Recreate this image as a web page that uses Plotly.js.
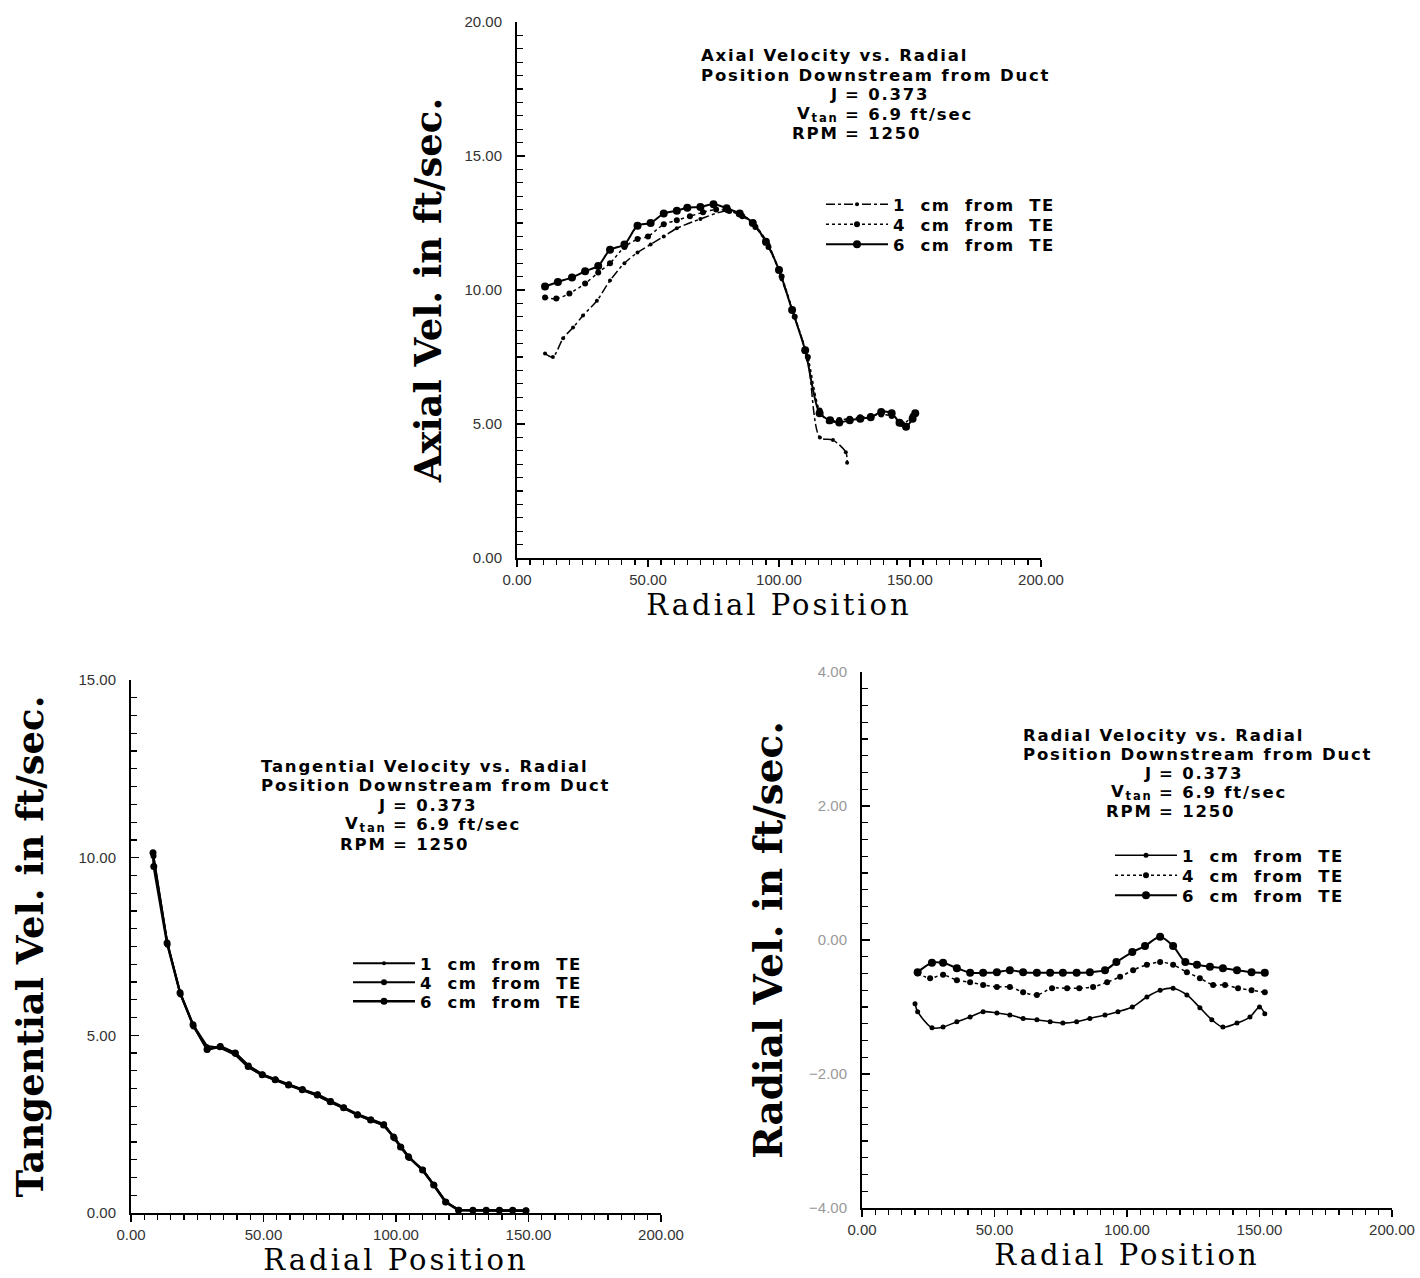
<!DOCTYPE html>
<html>
<head>
<meta charset="utf-8">
<script src="https://cdn.plot.ly/plotly-3.0.1.min.js"></script>
<style>html,body{margin:0;padding:0;background:#fff;}#chart{width:1420px;height:1278px;}</style>
</head>
<body>
<div id="chart"></div>
<script>
// ---------- DATA ----------
const seriesNames = ["1\u00a0 cm\u00a0 from\u00a0 TE", "4\u00a0 cm\u00a0 from\u00a0 TE", "6\u00a0 cm\u00a0 from\u00a0 TE"];

// Axial velocity (top chart)
const axialX1 = [10.7, 13.7, 17.6, 21.4, 25.2, 30.5, 35.5, 41, 46, 51, 56, 61, 70, 80, 86, 91, 96, 101, 106, 111, 115.6, 120.6, 125.5, 126];
const axialY1 = [7.63, 7.5, 8.2, 8.6, 9.05, 9.6, 10.35, 11.0, 11.4, 11.7, 12.0, 12.3, 12.65, 12.95, 12.8, 12.4, 11.7, 10.4, 9.0, 7.4, 4.5, 4.4, 3.95, 3.55];
const axialX4 = [10.7, 15, 20, 26, 31, 35.5, 41, 46, 50, 56, 61, 66, 71, 76, 81, 86, 91, 96, 101, 106, 111, 115.5, 119, 123, 127, 131, 135, 139, 143, 147, 151];
const axialY4 = [9.72, 9.68, 9.87, 10.24, 10.65, 11.0, 11.6, 11.9, 12.0, 12.45, 12.6, 12.75, 12.9, 13.0, 12.95, 12.75, 12.35, 11.6, 10.5, 9.0, 7.5, 5.5, 5.1, 5.15, 5.2, 5.25, 5.3, 5.35, 5.3, 5.0, 5.3];
const axialX6 = [10.7, 15.6, 21, 26, 31, 35.5, 41, 46, 51, 56, 61, 65, 70, 75, 80, 85, 90, 95, 100, 105, 110, 115.5, 119.5, 123, 127, 131, 135, 139, 143, 146, 148.5, 151, 152];
const axialY6 = [10.13, 10.3, 10.47, 10.7, 10.9, 11.5, 11.7, 12.4, 12.5, 12.85, 12.96, 13.07, 13.1, 13.2, 13.05, 12.85, 12.5, 11.8, 10.75, 9.25, 7.75, 5.4, 5.14, 5.06, 5.14, 5.2, 5.25, 5.45, 5.4, 5.05, 4.9, 5.2, 5.4];

// Tangential velocity (bottom-left chart)
const tanX1 = [8.3, 13.6, 18.5, 23.4, 28.7, 33.6, 39.3, 44.2, 49.5, 54.4, 59.4, 64.6, 70.3, 75.2, 80.2, 85.4, 90.4, 95.3, 99.1, 104.7, 110, 114.2, 118.7, 123.6, 129, 134, 139, 144, 149];
const tanY1 = [10.1, 7.65, 6.2, 5.3, 4.7, 4.65, 4.45, 4.1, 3.88, 3.74, 3.6, 3.46, 3.3, 3.12, 2.95, 2.76, 2.6, 2.47, 2.15, 1.6, 1.2, 0.8, 0.32, 0.08, 0.07, 0.07, 0.07, 0.07, 0.06];
const tanX4 = [8.5, 13.8, 18.7, 23.6, 28.9, 33.8, 39.5, 44.4, 49.7, 54.6, 59.6, 64.8, 70.5, 75.4, 80.4, 85.6, 90.6, 95.5, 99.5, 102, 105, 110.2, 114.5, 119, 123.8, 129.2, 134.2, 139.2, 144.2, 149.2];
const tanY4 = [10.05, 7.55, 6.15, 5.25, 4.6, 4.7, 4.5, 4.15, 3.9, 3.76, 3.62, 3.48, 3.34, 3.15, 2.97, 2.78, 2.63, 2.5, 2.1, 1.85, 1.55, 1.22, 0.78, 0.3, 0.09, 0.08, 0.08, 0.08, 0.08, 0.07];
const tanX6 = [8.3, 8.6, 13.6, 18.5, 23.4, 28.7, 33.6, 39.3, 44.2, 49.5, 54.4, 59.4, 64.6, 70.3, 75.2, 80.2, 85.4, 90.4, 95.3, 99.1, 101.7, 104.7, 110, 114.2, 118.7, 123.6, 129, 134, 139, 144, 149];
const tanY6 = [10.14, 9.75, 7.6, 6.2, 5.3, 4.6, 4.68, 4.5, 4.12, 3.89, 3.75, 3.6, 3.47, 3.32, 3.13, 2.96, 2.76, 2.62, 2.48, 2.14, 1.86, 1.58, 1.21, 0.79, 0.31, 0.08, 0.08, 0.08, 0.08, 0.08, 0.06];

// Radial velocity (bottom-right chart)
const radX1 = [20, 21, 26.4, 30.6, 35.8, 40.8, 45.7, 50.9, 55.8, 60.8, 66, 71, 75.8, 81, 86, 91.7, 96.6, 102, 107.5, 112.5, 117.4, 122.6, 127.5, 132, 136.2, 141.5, 146.4, 150, 152];
const radY1 = [-0.95, -1.07, -1.31, -1.3, -1.22, -1.15, -1.07, -1.09, -1.12, -1.17, -1.19, -1.22, -1.24, -1.22, -1.17, -1.12, -1.07, -1.0, -0.85, -0.75, -0.72, -0.82, -1.01, -1.19, -1.3, -1.24, -1.15, -1.0, -1.1];
const radX4 = [21, 25.7, 30.6, 35.8, 40.8, 45.7, 50.9, 55.8, 60.8, 66, 71.7, 77.4, 82, 87.2, 92.5, 97.4, 102.3, 107.5, 112.5, 117.4, 122.6, 127.5, 132.5, 137, 141.9, 147, 152];
const radY4 = [-0.5, -0.57, -0.52, -0.6, -0.63, -0.67, -0.7, -0.7, -0.78, -0.82, -0.72, -0.72, -0.72, -0.7, -0.63, -0.55, -0.45, -0.37, -0.33, -0.37, -0.48, -0.57, -0.67, -0.67, -0.72, -0.75, -0.78];
const radX6 = [21, 26.4, 30.6, 35.8, 40.8, 45.7, 50.9, 55.8, 60.8, 66, 71, 75.8, 81, 86, 91.7, 96, 102, 106.8, 112.5, 117.4, 122, 126.4, 131.3, 136.2, 141.5, 147, 152];
const radY6 = [-0.48, -0.34, -0.34, -0.42, -0.49, -0.49, -0.48, -0.45, -0.48, -0.49, -0.49, -0.49, -0.49, -0.48, -0.45, -0.33, -0.18, -0.09, 0.05, -0.09, -0.33, -0.37, -0.4, -0.42, -0.45, -0.48, -0.49];

// Text
const axialTitleLines = ["Axial Velocity vs. Radial", "Position Downstream from Duct"];
const tanTitleLines = ["Tangential Velocity vs. Radial", "Position Downstream from Duct"];
const radTitleLines = ["Radial Velocity vs. Radial", "Position Downstream from Duct"];
const paramLabels = ["J", "V<sub>tan</sub>", "RPM"];
const paramValues = ["= 0.373", "= 6.9 ft/sec", "= 1250"];
const xTitle = "Radial Position";
const yTitles = ["Axial Vel. in ft/sec.", "Tangential Vel. in ft/sec.", "Radial Vel. in ft/sec."];

// ---------- LAYOUT HELPERS ----------
const W = 1420, H = 1278;
const px = v => v / W;
const py = v => 1 - v / H;
const spaced = (t, ls) => '<span style="letter-spacing:' + ls + 'px">' + t + '</span>';

const tickFont = {family: "Liberation Sans, Arial, sans-serif", size: 15, color: "#333"};
const annFont = {family: "DejaVu Sans, sans-serif", size: 16.5, color: "#000", weight: "bold"};
const legFont = {family: "DejaVu Sans, sans-serif", size: 16.5, color: "#000", weight: "bold"};

function xAxis(domain, anchor, standoff) {
  return {
    domain: domain, anchor: anchor, range: [0, 200], tickvals: [0, 50, 100, 150, 200],
    tickformat: ".2f", ticks: "outside", ticklen: 7, tickwidth: 1.5, tickcolor: "#000",
    minor: {dtick: 5, ticks: "outside", ticklen: 5, tickcolor: "#000", tickwidth: 1.2},
    showline: true, linecolor: "#000", linewidth: 2, showgrid: false, zeroline: false,
    tickfont: tickFont, automargin: false,
    title: {text: spaced(xTitle, 3), standoff: standoff, font: {family: "DejaVu Serif, serif", size: 29, color: "#000"}}
  };
}
function yAxis(domain, anchor, range, dtick, minorDtick, title, tsize, standoff, tcolor) {
  return {
    domain: domain, anchor: anchor, range: range, dtick: dtick, tick0: range[0],
    tickformat: ".2f", ticks: "inside", ticklen: 8, tickwidth: 1.5, tickcolor: "#000",
    minor: {dtick: minorDtick, ticks: "inside", ticklen: 6, tickcolor: "#000", tickwidth: 1.2},
    showline: true, linecolor: "#000", linewidth: 2, showgrid: false, zeroline: false,
    tickfont: Object.assign({}, tickFont, {color: tcolor || "#333"}), ticklabelstandoff: 10, automargin: false,
    title: {text: title, standoff: standoff, font: {family: "DejaVu Serif, serif", size: tsize, color: "#000", weight: "bold"}}
  };
}

const axialStyles = [
  {line: {color: "#000", width: 1.5, dash: "dashdot"}, marker: {size: 4, color: "#000"}},
  {line: {color: "#000", width: 1.5, dash: "dot"}, marker: {size: 6, color: "#000"}},
  {line: {color: "#000", width: 2}, marker: {size: 8, color: "#000"}}
];
const tanStyles = [
  {line: {color: "#000", width: 2}, marker: {size: 4, color: "#000"}},
  {line: {color: "#000", width: 2}, marker: {size: 6, color: "#000"}},
  {line: {color: "#000", width: 2.5}, marker: {size: 7, color: "#000"}}
];
const radStyles = [
  {line: {color: "#000", width: 1.6}, marker: {size: 5, color: "#000"}},
  {line: {color: "#000", width: 1.5, dash: "dot"}, marker: {size: 6, color: "#000"}},
  {line: {color: "#000", width: 2}, marker: {size: 8, color: "#000"}}
];

function mk(x, y, i, xa, ya, leg, st, shape) {
  return {
    x: x, y: y, xaxis: xa, yaxis: ya, legend: leg, name: spaced(seriesNames[i], 1.5), type: "scatter", mode: "lines+markers",
    line: Object.assign({shape: shape, smoothing: 0.8}, st[i].line), marker: st[i].marker
  };
}

const data = [
  mk(axialX1, axialY1, 0, "x", "y", "legend", axialStyles, "spline"),
  mk(axialX4, axialY4, 1, "x", "y", "legend2", axialStyles, "spline"),
  mk(axialX6, axialY6, 2, "x", "y", "legend3", axialStyles, "spline"),
  mk(tanX1, tanY1, 0, "x2", "y2", "legend4", tanStyles, "linear"),
  mk(tanX4, tanY4, 1, "x2", "y2", "legend5", tanStyles, "linear"),
  mk(tanX6, tanY6, 2, "x2", "y2", "legend6", tanStyles, "linear"),
  mk(radX1, radY1, 0, "x3", "y3", "legend7", radStyles, "spline"),
  mk(radX4, radY4, 1, "x3", "y3", "legend8", radStyles, "spline"),
  mk(radX6, radY6, 2, "x3", "y3", "legend9", radStyles, "spline")
];

// annotations (chart captions)
const annotations = [];
function caption(lines, left, topY, eqX, spacing) {
  lines.forEach((t, k) => annotations.push({xref: "paper", yref: "paper", x: px(left), y: py(topY + k * spacing),
    xanchor: "left", yanchor: "middle", text: spaced(t, 1.8), showarrow: false, font: annFont, borderpad: 0}));
  paramLabels.forEach((t, k) => {
    const yy = py(topY + (2 + k) * spacing);
    annotations.push({xref: "paper", yref: "paper", x: px(eqX - 4), y: yy, xanchor: "right", yanchor: "middle",
      text: spaced(t, 1.8), showarrow: false, font: annFont, borderpad: 0});
    annotations.push({xref: "paper", yref: "paper", x: px(eqX), y: yy, xanchor: "left", yanchor: "middle",
      text: spaced(paramValues[k], 1.8), showarrow: false, font: annFont, borderpad: 0});
  });
}
caption(axialTitleLines, 700, 56, 844, 19.5);
caption(tanTitleLines, 260, 766, 392, 19.5);
caption(radTitleLines, 1022, 735, 1158, 19.2);

function legendAt(x, y) {
  return {x: px(x), y: py(y), xanchor: "left", yanchor: "top", font: legFont, bgcolor: "rgba(0,0,0,0)",
    itemwidth: 62, tracegroupgap: 0, traceorder: "normal"};
}

const layout = {
  width: W, height: H, margin: {l: 0, r: 0, t: 0, b: 0}, paper_bgcolor: "#fff", plot_bgcolor: "#fff",
  showlegend: true,
  xaxis: xAxis([px(517), px(1041)], "y", 6),
  yaxis: yAxis([py(558), py(22)], "x", [0, 20], 5, 0.5, yTitles[0], 37, 12),
  xaxis2: xAxis([px(131), px(661)], "y2", 4),
  yaxis2: yAxis([py(1213), py(680)], "x2", [0, 15], 5, 0.5, yTitles[1], 37, 24),
  xaxis3: xAxis([px(862), px(1392)], "y3", 4),
  yaxis3: yAxis([py(1208), py(672)], "x3", [-4, 4], 2, 0.25, yTitles[2], 39, 14, "#999"),
  legend: legendAt(821, 187),
  legend2: legendAt(821, 207),
  legend3: legendAt(821, 227),
  legend4: legendAt(348, 946),
  legend5: legendAt(348, 965),
  legend6: legendAt(348, 984),
  legend7: legendAt(1110, 838),
  legend8: legendAt(1110, 858),
  legend9: legendAt(1110, 878),
  annotations: annotations
};

Plotly.newPlot("chart", data, layout, {displayModeBar: false, staticPlot: true});
</script>
</body>
</html>
